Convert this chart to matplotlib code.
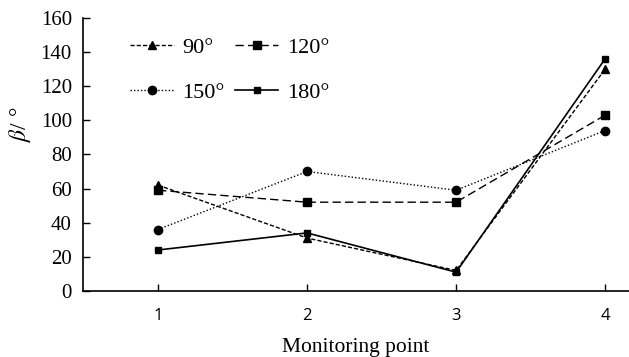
import matplotlib
matplotlib.use("Agg")
import matplotlib.pyplot as plt

# ── Data ────────────────────────────────────────────────────────────────────
points = [1, 2, 3, 4]
labels = ["90°", "120°", "150°", "180°"]
beta_90 = [62, 31, 12, 130]
beta_120 = [59, 52, 52, 103]
beta_150 = [36, 70, 59, 94]
beta_180 = [24, 34, 11, 136]

serif = "Liberation Serif"
plt.rcParams["font.family"] = serif
plt.rcParams["mathtext.fontset"] = "stix"

fig = plt.figure(figsize=(6.29, 3.57), dpi=100)
ax = fig.add_axes([0.132, 0.185, 0.868, 0.765])

h90, = ax.plot(points, beta_90, color="black", lw=1.0, ls=(0, (3, 1.5)),
               marker="^", ms=6, label=labels[0])
h120, = ax.plot(points, beta_120, color="black", lw=1.0, ls=(0, (6, 3)),
                marker="s", ms=6, label=labels[1])
h150, = ax.plot(points, beta_150, color="black", lw=1.0, ls=(0, (1, 1.5)),
                marker="o", ms=6, label=labels[2])
h180, = ax.plot(points, beta_180, color="black", lw=1.2, ls="-",
                marker="s", ms=5, label=labels[3])

ax.set_xlim(0.497, 4.16)
ax.set_ylim(0, 160)
ax.set_yticks(range(0, 161, 20))
ax.set_xticks(points)
ax.set_xticklabels([str(p) for p in points], family="Open Sans", fontsize=12)
ax.tick_params(axis="y", direction="in", length=5, width=1, labelsize=15, pad=8)
ax.tick_params(axis="x", direction="in", length=5, width=1, pad=12)

for side in ["top", "right"]:
    ax.spines[side].set_visible(False)
for side in ["left", "bottom"]:
    ax.spines[side].set_linewidth(1.2)

ax.set_xlabel("Monitoring point", fontsize=15.5, labelpad=10.5)
ax.set_ylabel(r"$\mathit{\beta}$/ °", fontsize=17)
ax.yaxis.set_label_coords(-0.092, 0.61)

# row-major order: 90, 120 / 150, 180
ax.legend([h90, h150, h120, h180], [labels[0], labels[2], labels[1], labels[3]],
          ncol=2, frameon=False, loc="upper left", bbox_to_anchor=(0.05, 1.003),
          fontsize=16, handlelength=1.95, labelspacing=1.1, columnspacing=0.45,
          handletextpad=0.4)

fig.savefig("out.png", dpi=100, facecolor="white")
